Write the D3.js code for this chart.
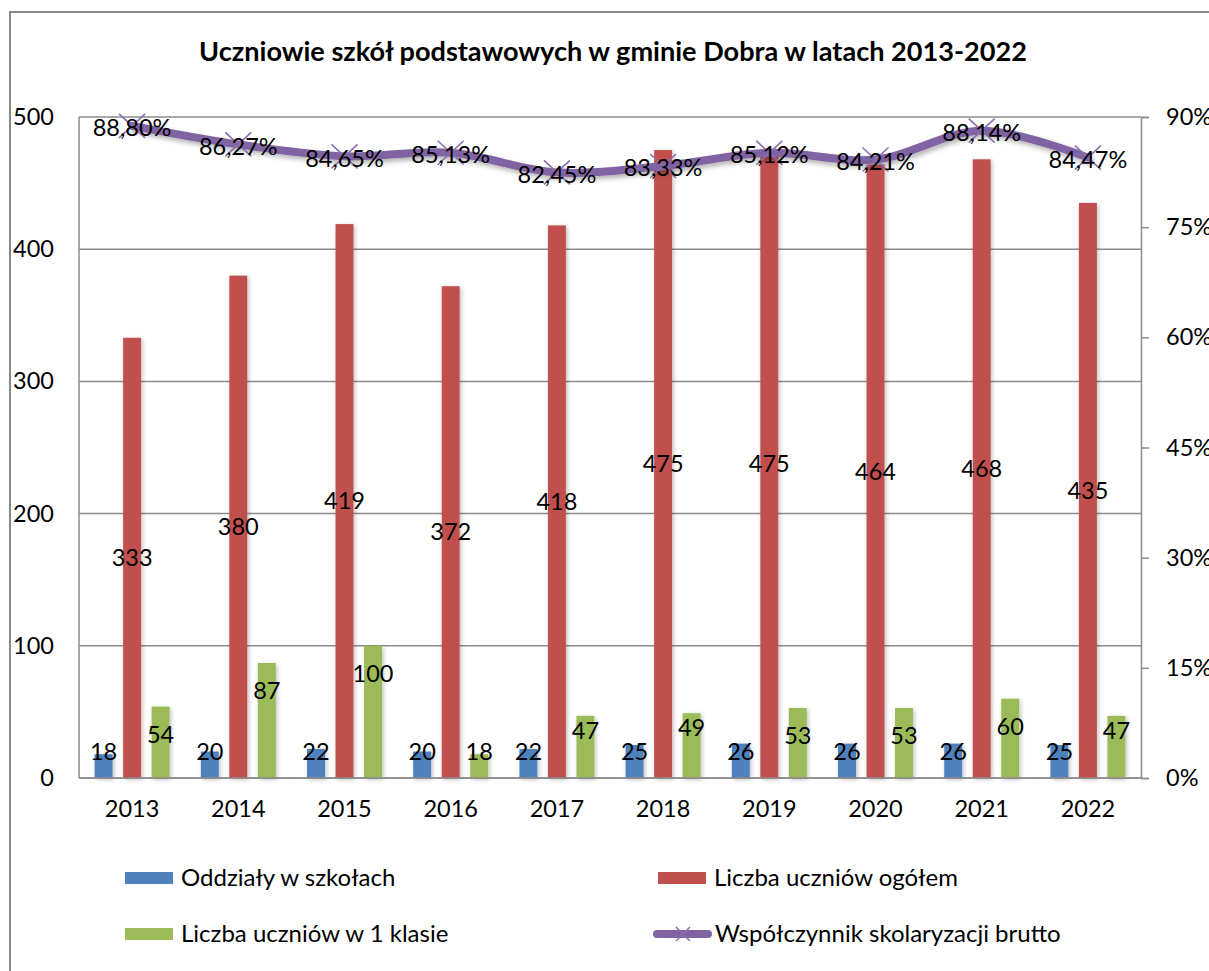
<!DOCTYPE html>
<html><head><meta charset="utf-8">
<script src="https://cdn.jsdelivr.net/npm/d3@7"></script>
<style>
body{margin:0;background:#fff;}
svg{display:block;font-family:Lato, "Open Sans", sans-serif;}
</style></head>
<body>
<svg id="chart" width="1209" height="971"></svg>
<script>
const years = ["2013","2014","2015","2016","2017","2018","2019","2020","2021","2022"];
const oddzialy = [18,20,22,20,22,25,26,26,26,25];
const uczniowieOgolem = [333,380,419,372,418,475,475,464,468,435];
const uczniowie1klasa = [54,87,100,18,47,49,53,53,60,47];
const wspolczynnik = [0.8880,0.8627,0.8465,0.8513,0.8245,0.8333,0.8512,0.8421,0.8814,0.8447];
const leftTicks = [0,100,200,300,400,500];
const rightTicks = [0,0.15,0.30,0.45,0.60,0.75,0.90];
const seriesNames = ["Oddziały w szkołach","Liczba uczniów ogółem","Liczba uczniów w 1 klasie","Współczynnik skolaryzacji brutto"];
const colors = {blue:"#4F81BD", red:"#C0504D", green:"#9BBB59", purple:"#8064A2"};

const svg = d3.select("#chart");
const plot = {l:79, r:1141, t:117, b:778};
const FS = 23.5;

const defs = svg.append("defs");
const f = defs.append("filter").attr("id","shadow").attr("x","-30%").attr("y","-30%").attr("width","160%").attr("height","160%");
f.append("feDropShadow").attr("dx",1.5).attr("dy",1.5).attr("stdDeviation",2).attr("flood-color","#000").attr("flood-opacity",0.25);
const f2 = defs.append("filter").attr("id","lshadow").attr("x","-10%").attr("y","-50%").attr("width","120%").attr("height","200%");
f2.append("feDropShadow").attr("dx",2).attr("dy",3).attr("stdDeviation",2.5).attr("flood-color","#000").attr("flood-opacity",0.3);

// outer border
svg.append("rect").attr("x",10).attr("y",12).attr("width",1260).attr("height",1020)
  .attr("fill","none").attr("stroke","#8a8a8a").attr("stroke-width",2);

// title
const title = svg.append("text").attr("x",(plot.l+plot.r)/2+3).attr("y",61)
  .attr("text-anchor","middle").attr("font-weight","bold").attr("font-size",24).attr("fill","#000")
  .text("Uczniowie szkół podstawowych w gminie Dobra w latach 2013-2022");
(function fit(){const w=title.node().getComputedTextLength(); title.attr("font-size",24*828/w);})();

const x = d3.scaleBand().domain(years).range([plot.l, plot.r]).padding(0);
const barKeys = ["o","u","k"];
const xi = d3.scaleBand().domain(barKeys).range([-42.75,42.75]).paddingInner(0.37).paddingOuter(0.185);
const yL = d3.scaleLinear().domain([0,500]).range([plot.b, plot.t]);
const yR = d3.scaleLinear().domain([0,0.9]).range([plot.b, plot.t]);

// gridlines
svg.append("g").selectAll("line").data(leftTicks).join("line")
  .attr("x1",plot.l).attr("x2",plot.r).attr("y1",d=>yL(d)).attr("y2",d=>yL(d))
  .attr("stroke","#8c8c8c").attr("stroke-width",1.5);
svg.append("line").attr("x1",plot.l).attr("x2",plot.l).attr("y1",plot.t).attr("y2",plot.b).attr("stroke","#8c8c8c").attr("stroke-width",1.5);

// left axis labels
const axL = svg.append("g").attr("transform",`translate(${plot.l},0)`)
  .call(d3.axisLeft(yL).tickValues(leftTicks).tickSize(0).tickPadding(25).tickFormat(d3.format("d")));
axL.select(".domain").remove();
axL.selectAll("text").attr("font-size",FS).attr("font-family","Lato").attr("fill","#000");

// right axis
const axR = svg.append("g").attr("transform",`translate(${plot.r},0)`)
  .call(d3.axisRight(yR).tickValues(rightTicks).tickSize(8).tickPadding(17).tickFormat(d=>Math.round(d*100)+"%"));
axR.select(".domain").attr("stroke","#8c8c8c").attr("stroke-width",1.5);
axR.selectAll(".tick line").attr("stroke","#8c8c8c").attr("stroke-width",1.5);
axR.selectAll("text").attr("font-size",FS).attr("font-family","Lato").attr("fill","#000");

// x axis labels
const axB = svg.append("g").attr("transform",`translate(0,${plot.b})`)
  .call(d3.axisBottom(x).tickSize(0).tickPadding(22));
axB.select(".domain").remove();
axB.selectAll("text").attr("font-size",FS).attr("font-family","Lato").attr("fill","#000");

// bars
const rows = years.map((y,i)=>({year:y, o:oddzialy[i], u:uczniowieOgolem[i], k:uczniowie1klasa[i], w:wspolczynnik[i]}));
const barColor = {o:colors.blue, u:colors.red, k:colors.green};
const bg = svg.append("g");
barKeys.forEach(k=>{
  bg.append("g").selectAll("rect").data(rows).join("rect")
    .attr("x",d=>x(d.year)+x.bandwidth()/2+xi(k))
    .attr("width",xi.bandwidth())
    .attr("y",d=>yL(d[k]))
    .attr("height",d=>plot.b-yL(d[k]))
    .attr("fill",barColor[k]).attr("filter","url(#shadow)");
});
svg.append("line").attr("x1",plot.l).attr("x2",plot.r).attr("y1",plot.b).attr("y2",plot.b).attr("stroke","#8c8c8c").attr("stroke-width",1.5);

// bar labels
const lg = svg.append("g").attr("font-size",FS).attr("font-family","Lato").attr("text-anchor","middle").attr("fill","#000");
const cx = (d,k)=>x(d.year)+x.bandwidth()/2+xi(k)+xi.bandwidth()/2;
lg.selectAll(".lo").data(rows).join("text").attr("class","lo")
  .attr("x",d=>cx(d,"o")).attr("y",plot.b-26).attr("dy","0.35em").text(d=>d.o);
lg.selectAll(".lu").data(rows).join("text").attr("class","lu")
  .attr("x",d=>cx(d,"u")).attr("y",d=>(yL(d.u)+plot.b)/2).attr("dy","0.35em").text(d=>d.u);
lg.selectAll(".lk").data(rows).join("text").attr("class","lk")
  .attr("x",d=>cx(d,"k")).attr("y",d=>Math.min(yL(d.k)+(d.k>50?28:15), plot.b-26)).attr("dy","0.35em").text(d=>d.k);

// line
const px = d=>x(d.year)+x.bandwidth()/2;
const line = d3.line().x(px).y(d=>yR(d.w)).curve(d3.curveCatmullRom.alpha(0.5));
svg.append("path").datum(rows).attr("d",line).attr("fill","none")
  .attr("stroke",colors.purple).attr("stroke-width",8).attr("stroke-linecap","round").attr("filter","url(#lshadow)");
const mk = svg.append("g").selectAll("g").data(rows).join("g")
  .attr("transform",d=>`translate(${px(d)},${yR(d.w)})`);
mk.append("path").attr("d","M-13,-12L13,12M-13,12L13,-12").attr("stroke","#8a6fb0").attr("stroke-width",1.6).attr("fill","none");

svg.append("g").attr("font-size",FS).attr("font-family","Lato").attr("text-anchor","middle").attr("fill","#000")
  .selectAll("text").data(rows).join("text")
  .attr("x",px).attr("y",d=>yR(d.w)+2).attr("dy","0.35em")
  .text(d=>d3.format(".2f")(d.w*100).replace(".",",")+"%");

// legend
const leg = svg.append("g").attr("font-size",24).attr("font-family","Lato").attr("fill","#000");
const legItems = [
  {name:seriesNames[0], c:colors.blue, x:125, y:878, type:"bar"},
  {name:seriesNames[1], c:colors.red, x:658, y:878, type:"bar"},
  {name:seriesNames[2], c:colors.green, x:125, y:934, type:"bar"},
  {name:seriesNames[3], c:colors.purple, x:653, y:934, type:"line"}
];
legItems.forEach(it=>{
  if(it.type==="bar"){
    leg.append("rect").attr("x",it.x).attr("y",it.y-6).attr("width",48).attr("height",12).attr("fill",it.c);
    leg.append("text").attr("x",it.x+56).attr("y",it.y).attr("dy","0.35em").text(it.name);
  } else {
    leg.append("line").attr("x1",it.x+4).attr("x2",it.x+55).attr("y1",it.y).attr("y2",it.y)
      .attr("stroke",it.c).attr("stroke-width",8).attr("stroke-linecap","round");
    leg.append("path").attr("transform",`translate(${it.x+30},${it.y})`).attr("d","M-7,-7L7,7M-7,7L7,-7")
      .attr("stroke","#8a6fb0").attr("stroke-width",1.5);
    leg.append("text").attr("x",it.x+62).attr("y",it.y).attr("dy","0.35em").text(it.name);
  }
});
</script>
</body></html>
